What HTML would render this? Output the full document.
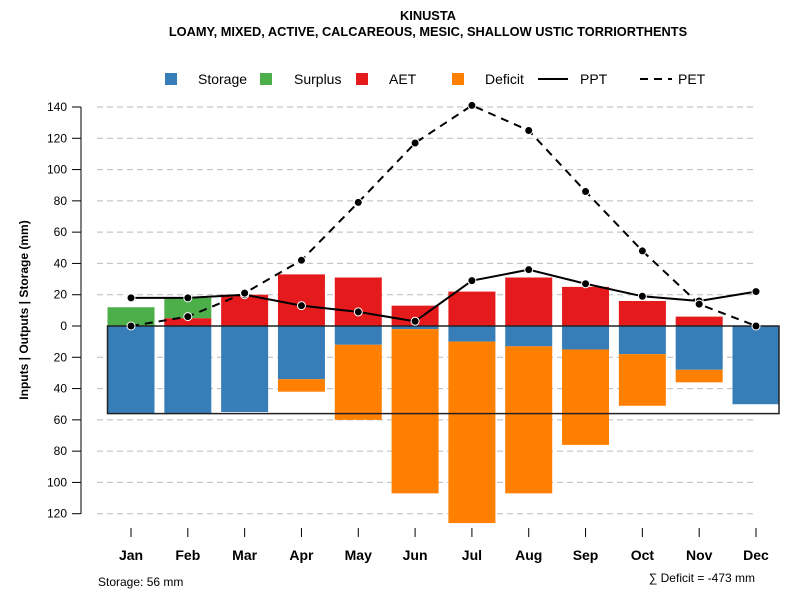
<!DOCTYPE html>
<html><head><meta charset="utf-8"><style>
body{margin:0;background:#fff;font-family:"Liberation Sans",sans-serif}
svg text{font-family:"Liberation Sans",sans-serif}
</style></head><body>
<svg id="c" width="800" height="600" xmlns="http://www.w3.org/2000/svg"></svg>
<script>
const months=["Jan","Feb","Mar","Apr","May","Jun","Jul","Aug","Sep","Oct","Nov","Dec"];
const storage=[56,56,55,34,12,2,10,13,15,18,28,50];
const deficit=[0,0,0,8,48,105,116,94,61,33,8,0];
const aet=[0,5,20,33,31,13,22,31,25,16,6,0];
const surplus=[12,13,0,0,0,0,0,0,0,0,0,0];
const ppt=[18,18,20,13,9,3,29,36,27,19,16,22];
const pet=[0,6,21,42,79,117,141,125,86,48,14,0];
const posTicks=[0,20,40,60,80,100,120,140];
const negTicks=[20,40,60,80,100,120];
const awc=56;

const svg=document.getElementById('c');
const NS="http://www.w3.org/2000/svg";
function y(v){return 326-v*219/140;}
function x(i){return 131+i*(756-131)/11;}
const bw=47;
function add(tag,attrs,name,parent){const e=document.createElementNS(NS,tag);for(const k in attrs)e.setAttribute(k,attrs[k]);


(parent||svg).appendChild(e);return e;}
function txt(s,attrs,name){const t=add('text',attrs,name);t.textContent=s;return t;}

posTicks.forEach(v=>{if(v>0)add('line',{x1:97,x2:756,y1:y(v),y2:y(v),stroke:'#bbb','stroke-dasharray':'6,4'},'grid-line');});
negTicks.forEach(v=>add('line',{x1:97,x2:756,y1:y(-v),y2:y(-v),stroke:'#bbb','stroke-dasharray':'6,4'},'grid-line'));
add('line',{x1:81,x2:81,y1:y(140),y2:y(-120),stroke:'#000'},'y-axis-line');
posTicks.forEach(v=>{add('line',{x1:72,x2:81,y1:y(v),y2:y(v),stroke:'#000'},'y-tick');
txt(String(v),{x:67,y:y(v)+4,'text-anchor':'end','font-size':12},'y-tick-label');});
negTicks.forEach(v=>{add('line',{x1:72,x2:81,y1:y(-v),y2:y(-v),stroke:'#000'},'y-tick');
txt(String(v),{x:67,y:y(-v)+4,'text-anchor':'end','font-size':12},'y-tick-label');});
months.forEach((m,i)=>{
  const cx=x(i),l=cx-bw/2;
  if(storage[i])add('rect',{x:l,y:y(0),width:bw,height:y(-storage[i])-y(0),fill:'#377EB8'},'bar-storage-'+m.toLowerCase());
  if(deficit[i])add('rect',{x:l,y:y(-storage[i]),width:bw,height:y(-storage[i]-deficit[i])-y(-storage[i]),fill:'#FF7F00'},'bar-deficit-'+m.toLowerCase());
  if(aet[i])add('rect',{x:l,y:y(aet[i]),width:bw,height:y(0)-y(aet[i]),fill:'#E41A1C'},'bar-aet-'+m.toLowerCase());
  if(surplus[i])add('rect',{x:l,y:y(aet[i]+surplus[i]),width:bw,height:y(aet[i])-y(aet[i]+surplus[i]),fill:'#4DAF4A'},'bar-surplus-'+m.toLowerCase());
  add('line',{x1:cx,x2:cx,y1:528,y2:537,stroke:'#000'},'x-tick');
  txt(m,{x:cx,y:560,'text-anchor':'middle','font-size':14,'font-weight':'bold'},'x-tick-label');
});
add('rect',{x:107.5,y:y(0),width:779-107.5,height:y(-awc)-y(0),fill:'none',stroke:'#222','stroke-width':1.5},'storage-capacity-box');
const pp=ppt.map((v,i)=>x(i)+','+y(v)).join(' ');
add('polyline',{points:pp,fill:'none',stroke:'#000','stroke-width':2},'ppt-line');
const pe=pet.map((v,i)=>x(i)+','+y(v)).join(' ');
add('polyline',{points:pe,fill:'none',stroke:'#000','stroke-width':2,'stroke-dasharray':'8,6'},'pet-line');
ppt.forEach((v,i)=>add('circle',{cx:x(i),cy:y(v),r:4,fill:'#000',stroke:'#fff','stroke-width':1},'ppt-point'));
pet.forEach((v,i)=>add('circle',{cx:x(i),cy:y(v),r:4,fill:'#000',stroke:'#fff','stroke-width':1},'pet-point'));
txt('KINUSTA',{x:428,y:20,'text-anchor':'middle','font-size':12.8,'font-weight':'bold'},'chart-title');
txt('LOAMY, MIXED, ACTIVE, CALCAREOUS, MESIC, SHALLOW USTIC TORRIORTHENTS',{x:428,y:36,'text-anchor':'middle','font-size':12.8,'font-weight':'bold'},'chart-subtitle');
const yt=txt('Inputs | Outputs | Storage    (mm)',{x:0,y:0,transform:'translate(28,310) rotate(-90)','text-anchor':'middle','font-size':12,'font-weight':'bold'},'y-axis-title');
yt.setAttribute('xml:space','preserve');
txt('Storage: 56 mm',{x:98,y:586,'font-size':12},'storage-note');
txt('\u2211 Deficit = -473 mm',{x:755,y:582,'text-anchor':'end','font-size':12},'deficit-note');
const lg=[["Storage","#377EB8",165,198],["Surplus","#4DAF4A",260,294],["AET","#E41A1C",356,389],["Deficit","#FF7F00",452,485]];
lg.forEach(l=>{add('rect',{x:l[2],y:73,width:12,height:12,fill:l[1]},'legend-swatch-'+l[0].toLowerCase());
txt(l[0],{x:l[3],y:84,'font-size':14},'legend-label-'+l[0].toLowerCase());});
add('line',{x1:538,x2:568,y1:79,y2:79,stroke:'#000','stroke-width':2},'legend-ppt-line');
txt('PPT',{x:580,y:84,'font-size':14},'legend-label-ppt');
add('line',{x1:640,x2:672,y1:79,y2:79,stroke:'#000','stroke-width':2,'stroke-dasharray':'8,6'},'legend-pet-line');
txt('PET',{x:678,y:84,'font-size':14},'legend-label-pet');
</script>
</body></html>
